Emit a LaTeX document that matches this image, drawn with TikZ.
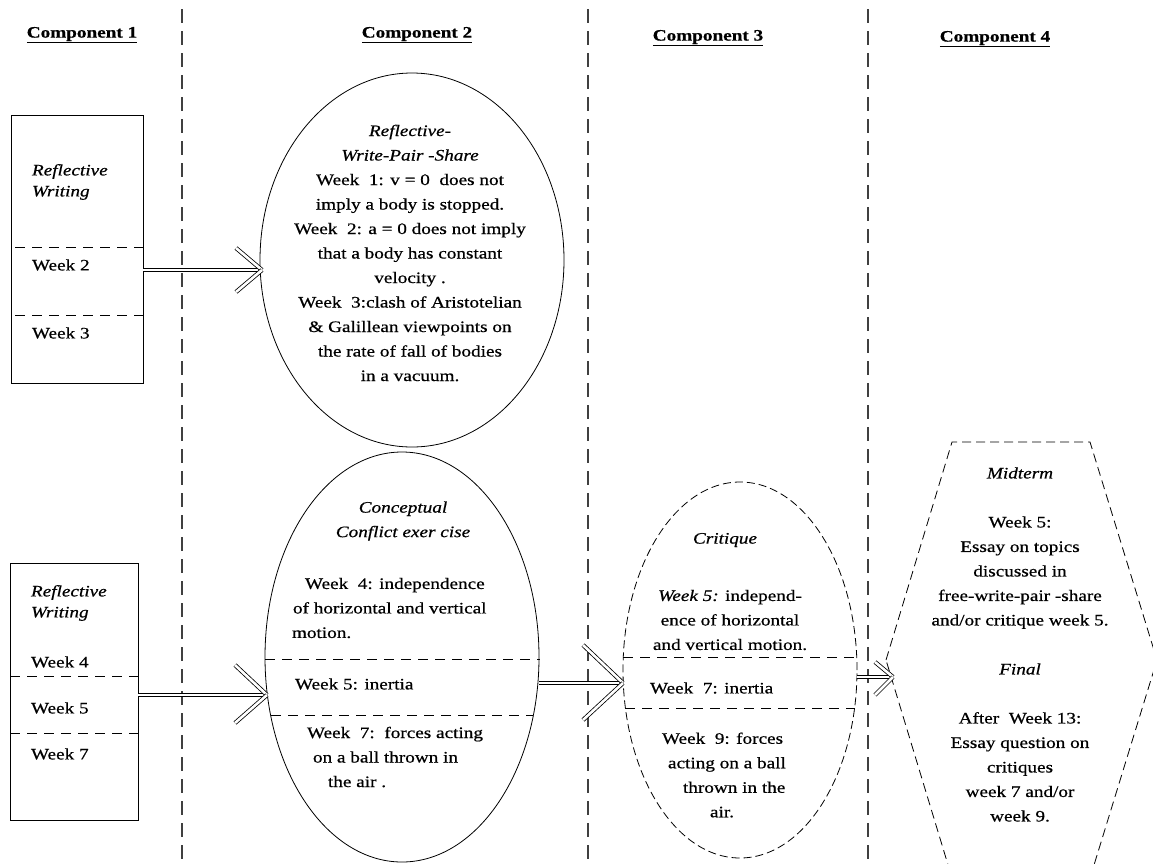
\documentclass[tikz,border=0pt]{standalone}
\usepackage{fontspec}
\setmainfont{Liberation Serif}[FakeStretch=1.2, FakeBold=0.6]
\usetikzlibrary{shapes.geometric}
\begin{document}
\begin{tikzpicture}[x=1pt,y=-1pt,
  every node/.style={inner sep=0pt, outer sep=0pt},
  txt/.style={font=\fontsize{16}{24.5}\selectfont},
  ittxt/.style={font=\fontsize{16}{24.5}\selectfont\itshape},
  boxit/.style={font=\fontsize{16}{21}\selectfont\itshape, align=left, anchor=west},
  heading/.style={font=\fontsize{16}{20}\selectfont\bfseries},
  vline/.style={line width=1.1pt, black!75, dash pattern=on 14pt off 8pt},
  sepline/.style={line width=0.9pt, dash pattern=on 10pt off 7pt},
  boxnode/.style={draw, line width=1pt},
  oval/.style={draw, ellipse, line width=0.8pt},
  dashoval/.style={oval, dash pattern=on 8pt off 4pt},
  hexline/.style={line width=0.8pt, dash pattern=on 9pt off 5pt},
  shaft/.style={draw, double, double distance=2.6pt, line width=0.8pt},
]
\path[use as bounding box] (0,0) rectangle (1153,863);
\clip (0,0) rectangle (1153,863);

% column separators
\draw[vline] (182,9) -- (182,863);
\draw[vline] (588,9) -- (588,863);
\draw[vline] (868,9) -- (868,863);

% headings
\node[heading] (h1) at (82,35) {\underline{Component 1}};
\node[heading] (h2) at (417,35) {\underline{Component 2}};
\node[heading] (h3) at (708,38) {\underline{Component 3}};
\node[heading] (h4) at (995,39) {\underline{Component 4}};

% Component 1 boxes
\node[boxnode, minimum width=132pt, minimum height=268pt] (B1) at (77,249) {};
\draw[sepline] (15,247) -- (146,247);
\draw[sepline] (15,315) -- (145,315);
\node[boxit] (B1t) at (32,182) {Reflective\\Writing};
\node[txt, anchor=west] (B1w2) at (32,265) {Week 2};
\node[txt, anchor=west] (B1w3) at (32,333) {Week 3};

\node[boxnode, minimum width=128pt, minimum height=257pt] (B2) at (74,691.5) {};
\draw[sepline] (10,676) -- (138,676);
\draw[sepline] (10,733) -- (138,733);
\node[boxit] (B2t) at (31,603) {Reflective\\Writing};
\node[txt, anchor=west] (B2w4) at (31,662) {Week 4};
\node[txt, anchor=west] (B2w5) at (31,708) {Week 5};
\node[txt, anchor=west] (B2w7) at (31,754) {Week 7};

% Component 2 ellipses
\node[oval, minimum width=304pt, minimum height=374pt] (E1) at (412,260) {};
\node[txt, align=center] (E1t) at (410,253) {\textit{Reflective-}\\\textit{Write-Pair -Share}\\Week\ \ 1: v = 0\ \ does not\\imply a body is stopped.\\Week\ \ 2: a = 0 does not imply\\that a body has constant\\velocity .\\Week\ \ 3:clash of Aristotelian\\\& Galillean viewpoints on\\the rate of fall of bodies\\in a vacuum.};

\node[oval, minimum width=274pt, minimum height=410pt] (E2) at (402,657) {};
\draw[sepline] (265,659) -- (540,659);
\draw[sepline] (271,715) -- (533,715);
\node[ittxt, align=center] (E2a) at (403,521) {Conceptual\\Conflict exer cise};
\node[txt, align=left, anchor=west] (E2b) at (292,608) {\hspace{13pt}Week\ \ 4: independence\\\hspace{1pt}of horizontal and vertical\\motion.};
\node[txt, anchor=west] (E2c) at (295,684) {Week 5: inertia};
\node[txt, align=left, anchor=west] (E2d) at (307,757) {Week\ \ 7:\ \ forces acting\\\hspace{6pt}on a ball thrown in\\\hspace{21pt}the air .};

% Component 3 ellipse
\node[dashoval, minimum width=234pt, minimum height=376pt] (E3) at (740,670) {};
\draw[sepline] (623,657) -- (857,657);
\draw[sepline] (625,708) -- (855,708);
\node[ittxt] (E3a) at (725,540) {Critique};
\node[txt, align=center] (E3b) at (730,620) {\textit{Week 5:} independ-\\ence of horizontal\\and vertical motion.};
\node[txt, anchor=west] (E3c) at (650,688) {Week\ \ 7: inertia};
\node[txt, align=left, anchor=west] (E3d) at (662,775) {Week\ \ 9: forces\\\hspace{6pt}acting on a ball\\\hspace{21pt}thrown in the\\\hspace{48pt}air.};

% Component 4 hexagon
\draw[hexline] (886,660) -- (952,442) -- (1090,442) -- (1157,660) -- (1090,878) -- (952,878) -- cycle;
\node[txt, align=center] (H) at (1020,644.5) {\textit{Midterm}\\ \strut\\ Week 5:\\Essay on topics\\discussed in\\free-write-pair -share\\and/or critique week 5.\\ \strut\\ \textit{Final}\\ \strut\\ After\ \ Week 13:\\Essay question on\\critiques\\week 7 and/or\\week 9.};

% arrows
\coordinate (T1) at (262,270);
\draw[shaft] (B1.east |- T1) -- (T1);
\draw[shaft] (T1) -- ++(-26,-22);
\draw[shaft] (T1) -- ++(-26,22);

\coordinate (T2) at (267,695);
\draw[shaft] (B2.east |- T2) -- (T2);
\draw[shaft] (T2) -- ++(-32,-30);
\draw[shaft] (T2) -- ++(-32,28);

\coordinate (T3) at (623,683);
\draw[shaft] (E2.east |- T3) -- (T3);
\draw[shaft] (T3) -- ++(-40,-38);
\draw[shaft] (T3) -- ++(-40,37);

\coordinate (T4) at (893,677);
\draw[shaft] (E3.east |- T4) -- (T4);
\draw[shaft] (T4) -- ++(-18,-15);
\draw[shaft] (T4) -- ++(-18,18);
\end{tikzpicture}
\end{document}
